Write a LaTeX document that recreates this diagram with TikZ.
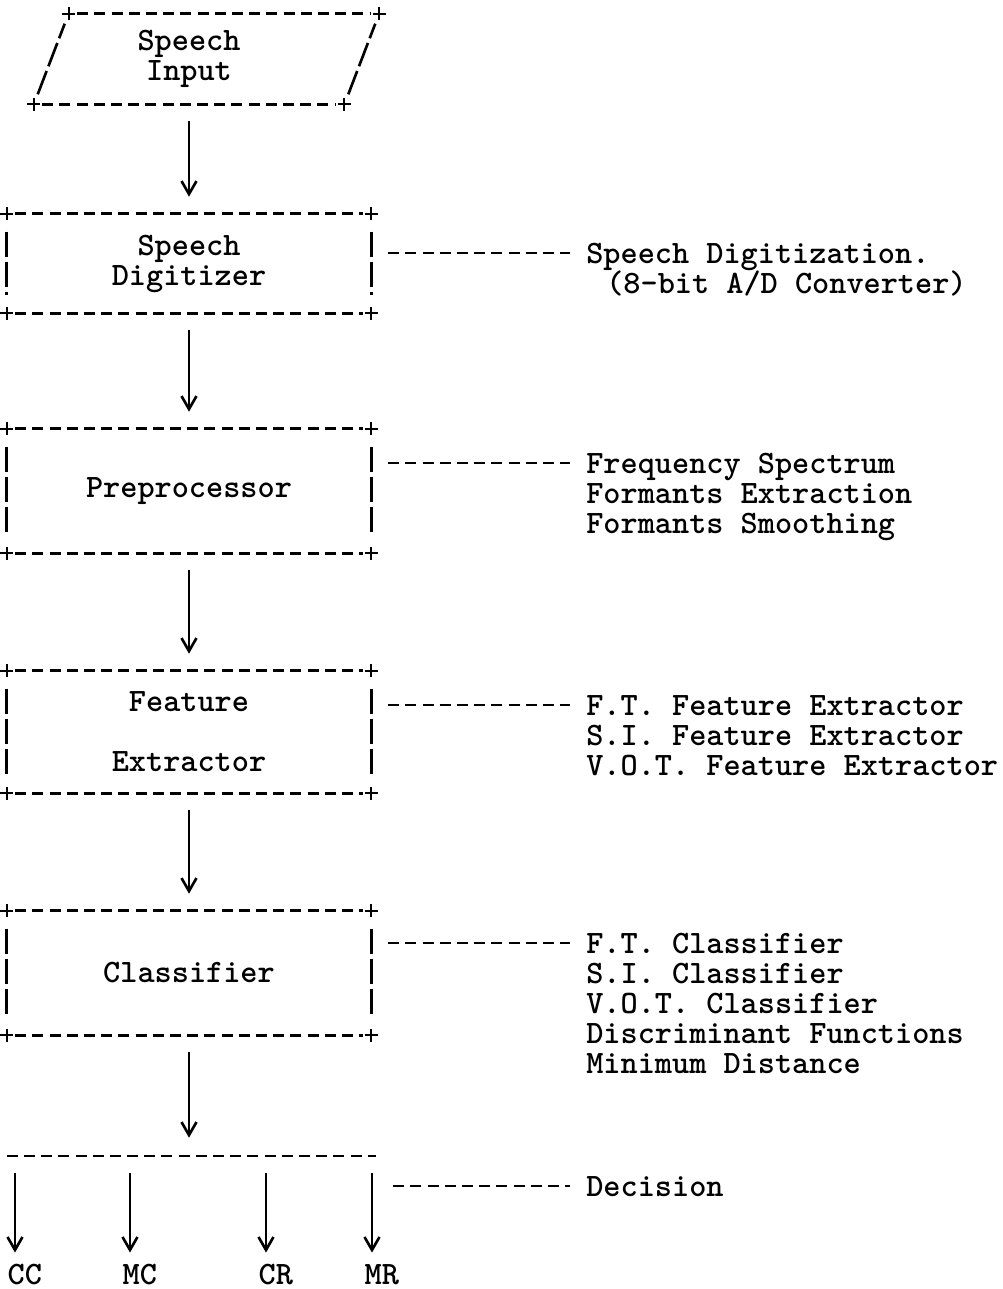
\documentclass[tikz,border=0pt]{standalone}
\usepackage{fontspec}
\usetikzlibrary{arrows.meta,positioning}

\begin{document}
\begin{tikzpicture}[x=0.02cm, y=-0.02cm, line width=1.5pt,
  font=\ttfamily\bfseries\fontsize{18.6pt}{17.07pt}\selectfont,
  >={Straight Barb[length=0.26cm,width=0.3cm]}]
  \tikzset{
    box/.style={minimum width=7.24cm, inner sep=0pt, align=center},
    hyph/.style={dash pattern=on 0.22cm off 0.124cm},
    bar/.style={dash pattern=on 0.5cm off 0.1cm},
    flow/.style={->, shorten <=0.34cm, shorten >=0.34cm},
    link/.style={hyph, shorten <=0.34cm, shorten >=0.3cm},
    note/.style={anchor=west, inner sep=0pt, text height=11.5pt, text depth=0pt},
    plus/.style={line width=1.2pt}
  }
  \useasboundingbox (0,0) rectangle (1002,1289);
  % input parallelogram
  \node[box, minimum width=6.16cm, minimum height=1.76cm] (inp) at (189,59) {Speech\\Input};
  \draw[hyph] ([xshift=0.87cm]inp.north west) -- ([xshift=0.53cm]inp.north east);
  \draw[hyph] ([xshift=0.17cm]inp.south west) -- ([xshift=-0.17cm]inp.south east);
  \draw[bar] ([xshift=0.08cm,yshift=0.2cm]inp.south west) -- ([xshift=0.62cm,yshift=-0.2cm]inp.north west);
  \draw[bar] ([xshift=0.08cm,yshift=0.2cm]inp.south east) -- ([xshift=0.62cm,yshift=-0.2cm]inp.north east);
  \foreach \c/\s in {north west/0.7,north east/0.7,south west/0,south east/0}
    \draw[plus] ([xshift=\s cm-0.13cm]inp.\c) -- ([xshift=\s cm+0.13cm]inp.\c)
      ([xshift=\s cm,yshift=-0.13cm]inp.\c) -- ([xshift=\s cm,yshift=0.13cm]inp.\c);
  % processing stages
  \node[box, minimum height=1.94cm] (dig) at (189,263.5) {Speech\\Digitizer};
  \node[box, minimum height=2.44cm] (pre) at (189,491) {Preprocessor};
  \node[box, minimum height=2.4cm] (fex) at (189,732) {Feature\\[17.07pt]Extractor};
  \node[box, minimum height=2.44cm] (cls) at (189,973) {Classifier};
  \foreach \n in {dig,pre,fex,cls}{
    \draw[hyph] ([xshift=0.17cm]\n.north west) -- ([xshift=-0.17cm]\n.north east);
    \draw[hyph] ([xshift=0.17cm]\n.south west) -- ([xshift=-0.17cm]\n.south east);
    \draw[bar] ([yshift=-0.36cm]\n.north west) -- ([yshift=0.36cm]\n.south west);
    \draw[bar] ([yshift=-0.36cm]\n.north east) -- ([yshift=0.36cm]\n.south east);
    \foreach \c in {north west,north east,south west,south east}
      \draw[plus] ([xshift=-0.13cm]\n.\c) -- ([xshift=0.13cm]\n.\c)
        ([yshift=-0.13cm]\n.\c) -- ([yshift=0.13cm]\n.\c);
  }
  % decision bar
  \node[minimum width=7.34cm, minimum height=0pt, inner sep=0pt] (dec) at (191.5,1156) {};
  \draw[hyph] (dec.west) -- (dec.east);
  % flow
  \draw[flow] (inp.south) -- (dig.north);
  \draw[flow] (dig.south) -- (pre.north);
  \draw[flow] (pre.south) -- (fex.north);
  \draw[flow] (fex.south) -- (cls.north);
  \draw[flow] (cls.south) -- (cls.south |- dec.north);
  % outputs
  \foreach \x/\n/\t in {15/cc/CC,130/mc/MC,266/cr/CR,372/mr/MR}{
    \coordinate (\n0) at (\x,1156);
    \node[note] (\n) at ({\x-8.6},1274) {\t};
    \draw[flow, shorten >=0.2cm] (\n0) -- (\n0 |- \n.north);
  }
  % notes
  \node[note] (dig1) at (585,253) {Speech Digitization.};
  \node[note] (dig2) at (605,283) {(8-bit A/D Converter)};
  \foreach \t [count=\i] in {Frequency Spectrum,Formants Extraction,Formants Smoothing}
    \node[note] (pre\i) at (585,{433+30*\i}) {\t};
  \foreach \t [count=\i] in {F.T. Feature Extractor,S.I. Feature Extractor,V.O.T. Feature Extractor}
    \node[note] (fex\i) at (585,{675+30*\i}) {\t};
  \foreach \t [count=\i] in {F.T. Classifier,S.I. Classifier,V.O.T. Classifier,Discriminant Functions,Minimum Distance}
    \node[note] (cls\i) at (585,{913+30*\i}) {\t};
  \node[note] (decT) at (585,1186) {Decision};
  \draw[link] (dig.east |- dig1) -- (dig1);
  \draw[link] (pre.east |- pre1) -- (pre1);
  \draw[link] (fex.east |- fex1) -- (fex1);
  \draw[link] (cls.east |- cls1) -- (cls1);
  \draw[link] (dec.east |- decT) -- (decT);
\end{tikzpicture}
\end{document}
